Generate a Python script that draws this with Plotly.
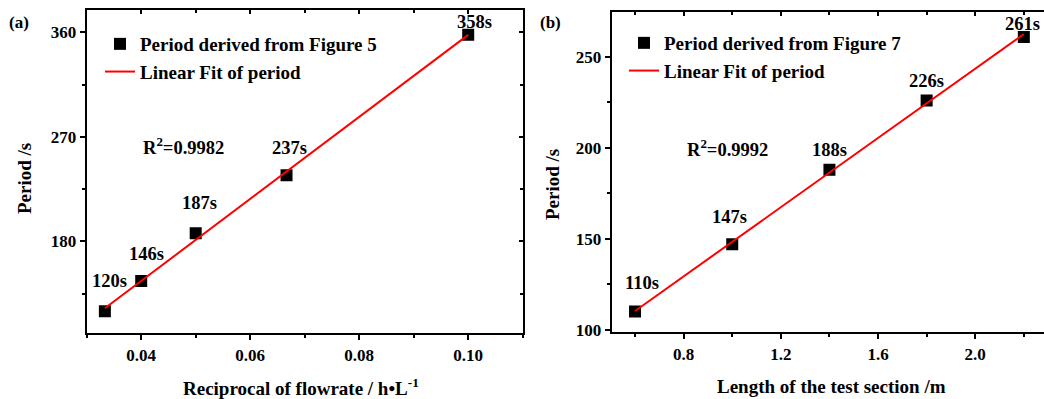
import numpy as np
import plotly.graph_objects as go

# Panel (a)
xa = [1/30, 0.04, 0.05, 1/15, 0.10]
ya = [120, 146, 187, 237, 358]
la = ["120s", "146s", "187s", "237s", "358s"]
xa_ticks = [0.04, 0.06, 0.08, 0.10]
xa_ticktext = ["0.04", "0.06", "0.08", "0.10"]
xa_minor = [0.03, 0.05, 0.07, 0.09, 0.11]
ya_ticks = [180, 270, 360]
ya_minor = [135, 225, 315]
# Panel (b)
xb = [0.6, 1.0, 1.4, 1.8, 2.2]
yb = [110, 147, 188, 226, 261]
lb = ["110s", "147s", "188s", "226s", "261s"]
xb_ticks = [0.8, 1.2, 1.6, 2.0]
xb_ticktext = ["0.8", "1.2", "1.6", "2.0"]
xb_minor = [0.6, 1.0, 1.4, 1.8, 2.2]
yb_ticks = [100, 150, 200, 250]
yb_minor = [125, 175, 225]

r2a = "R<sup>2</sup>=0.9982"
r2b = "R<sup>2</sup>=0.9992"

FONT = "Liberation Serif"
W, H = 1044, 399

RANGE_XA = [0.03, 0.11]
RANGE_YA = [101, 379.2]
RANGE_XB = [0.504, 2.283]
RANGE_YB = [98.5, 274.6]


def px2x(p):
    return p / W


def px2y(p):
    return 1 - p / H


def fit(x, y):
    k, b = np.polyfit(x, y, 1)
    xs = [min(x), max(x)]
    return xs, [k * v + b for v in xs]


fa = fit(xa, ya)
fb = fit(xb, yb)

fig = go.Figure()
fig.add_trace(go.Scatter(x=xa, y=ya, mode="markers", name="Period derived from Figure 5",
                         marker=dict(symbol="square", size=12, color="black"),
                         xaxis="x", yaxis="y", legend="legend"))
fig.add_trace(go.Scatter(x=fa[0], y=fa[1], mode="lines", name="Linear Fit of period",
                         line=dict(color="red", width=2), xaxis="x", yaxis="y", legend="legend"))
fig.add_trace(go.Scatter(x=xb, y=yb, mode="markers", name="Period derived from Figure 7",
                         marker=dict(symbol="square", size=12, color="black"),
                         xaxis="x2", yaxis="y2", legend="legend2"))
fig.add_trace(go.Scatter(x=fb[0], y=fb[1], mode="lines", name="Linear Fit of period",
                         line=dict(color="red", width=2), xaxis="x2", yaxis="y2", legend="legend2"))
# empty traces so the mirrored (inside-tick) axes get drawn
for xr, yr in [("x3", "y"), ("x", "y3"), ("x4", "y2")]:
    fig.add_trace(go.Scatter(x=[], y=[], xaxis=xr, yaxis=yr, showlegend=False, hoverinfo="skip"))

tickfont = dict(family=FONT, size=17, color="black", weight="bold")
titlefont = dict(family=FONT, size=19, color="black", weight="bold")


def main_axis(rng, dom, tv, tt, minor, anchor, mirror=True):
    d = dict(domain=dom, range=rng, tickvals=tv, anchor=anchor, automargin=False,
             showline=True, linecolor="black", linewidth=2, mirror=mirror,
             ticks="outside", ticklen=5, tickwidth=2, tickcolor="black",
             showgrid=False, zeroline=False, tickfont=tickfont,
             minor=dict(tickvals=minor, ticks="outside", ticklen=3, tickwidth=2,
                        tickcolor="black", showgrid=False))
    if tt is not None:
        d["ticktext"] = tt
    return d


def mirror_axis(rng, tv, minor, overlay, anchor, side):
    return dict(range=rng, tickvals=tv, overlaying=overlay, anchor=anchor, side=side,
                automargin=False, showline=False, showticklabels=False,
                ticks="inside", ticklen=4, tickwidth=2, tickcolor="black",
                showgrid=False, zeroline=False,
                minor=dict(tickvals=minor, ticks="inside", ticklen=3, tickwidth=2,
                           tickcolor="black", showgrid=False))


dom_xa = [px2x(86.7), px2x(522.7)]
dom_ya = [px2y(333.3), px2y(10)]
dom_xb = [px2x(611.7), 1.0]
dom_yb = [px2y(332.3), px2y(12.3)]

legfont = dict(family=FONT, size=19, color="black", weight="bold")

fig.update_layout(
    width=W, height=H, margin=dict(l=0, r=0, t=0, b=0, autoexpand=False),
    paper_bgcolor="white", plot_bgcolor="white",
    font=dict(family=FONT, color="black"),
    xaxis=main_axis(RANGE_XA, dom_xa, xa_ticks, xa_ticktext, xa_minor, "y"),
    yaxis=main_axis(RANGE_YA, dom_ya, ya_ticks, None, ya_minor, "x"),
    xaxis2=main_axis(RANGE_XB, dom_xb, xb_ticks, xb_ticktext, xb_minor, "y2"),
    yaxis2=main_axis(RANGE_YB, dom_yb, yb_ticks, None, yb_minor, "x2", mirror=False),
    xaxis3=mirror_axis(RANGE_XA, xa_ticks, xa_minor, "x", "y", "top"),
    yaxis3=mirror_axis(RANGE_YA, ya_ticks, ya_minor, "y", "x", "right"),
    xaxis4=mirror_axis(RANGE_XB, xb_ticks, xb_minor, "x2", "y2", "top"),
    legend=dict(x=px2x(100), y=px2y(25), xanchor="left", yanchor="top", bgcolor="rgba(0,0,0,0)",
                font=legfont, itemwidth=30, tracegroupgap=0),
    legend2=dict(x=px2x(624), y=px2y(24), xanchor="left", yanchor="top", bgcolor="rgba(0,0,0,0)",
                 font=legfont, itemwidth=30, tracegroupgap=0),
)

annfont = dict(family=FONT, size=18.5, color="black", weight="bold")
shifts_a = [(5, 30), (5, 27), (3.5, 30), (2.5, 27), (6, 12.5)]
shifts_b = [(7, 28.5), (-2.5, 27), (0, 20), (0, 20), (-1, 13.5)]
anns = []
for (x, y, t), (sx, sy) in zip(zip(xa, ya, la), shifts_a):
    anns.append(dict(x=x, y=y, xref="x", yref="y", text=t, showarrow=False, font=annfont,
                     xshift=sx, yshift=sy))
for (x, y, t), (sx, sy) in zip(zip(xb, yb, lb), shifts_b):
    anns.append(dict(x=x, y=y, xref="x2", yref="y2", text=t, showarrow=False, font=annfont,
                     xshift=sx, yshift=sy))


def paper_text(px, py, text, font, angle=0):
    return dict(x=px2x(px), y=px2y(py), xref="paper", yref="paper", text=text,
                showarrow=False, font=font, textangle=angle, xanchor="center", yanchor="middle")


anns.append(paper_text(183, 145.5, r2a, annfont))
anns.append(paper_text(727, 147.5, r2b, annfont))
anns.append(paper_text(19, 22, "(a)", dict(family=FONT, size=17, color="black", weight="bold")))
anns.append(paper_text(550, 22, "(b)", dict(family=FONT, size=17, color="black", weight="bold")))
anns.append(paper_text(301, 387, "Reciprocal of flowrate / h•L<sup>-1</sup>", titlefont))
anns.append(paper_text(831, 386, "Length of the test section /m", titlefont))
anns.append(paper_text(24, 179, "Period /s", titlefont, -90))
anns.append(paper_text(553, 185, "Period /s", titlefont, -90))
fig.update_layout(annotations=anns)

fig.write_html("out.html", post_script="document.body.style.margin='0';",
               config={"displayModeBar": False})
